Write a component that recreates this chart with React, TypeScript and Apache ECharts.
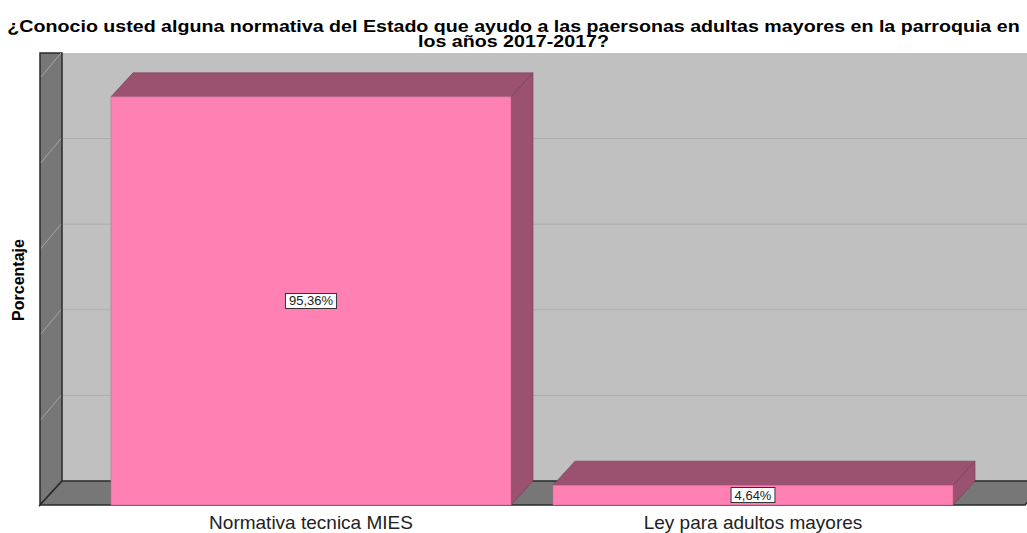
import React, { useEffect, useRef } from "react";
import * as echarts from "echarts";

const TITLE = "¿Conocio usted alguna normativa del Estado que ayudo a las paersonas adultas mayores en la parroquia en\nlos años 2017-2017?";
const CATEGORIES = ["Normativa tecnica MIES", "Ley para adultos mayores"];
const PERCENTS = [95.36, 4.64];
const LABELS = ["95,36%", "4,64%"];
const GRID_TICKS = [0, 20, 40, 60, 80, 100];

const GRID = { left: 90, right: 53, top: 77, bottom: 28 };
const W = 1027;
const H = 533;
const DX = 22;
const DY = 24;
const BAR_RATIO = 0.905;

const FRONT = "#ff80b3";
const DARK = "#9b5270";
const EDGE = "#6e3a52";

export default function App() {
  const ref = useRef<HTMLDivElement>(null);
  useEffect(() => {
    if (!ref.current) return;
    const chart = echarts.init(ref.current, null, { renderer: "svg" });
    const plotH = H - GRID.top - GRID.bottom;
    const y0Front = H - GRID.bottom;
    const yOf = (v: number) => y0Front - (v / 100) * plotH;
    const leftX = 40;
    const wallTop = yOf(100) - DY;

    const graphics: any[] = [];
    // title (slightly widened like the original)
    graphics.push({
      type: "text",
      z: 20,
      x: W / 2,
      y: 18,
      scaleX: 1.155,
      style: {
        text: TITLE,
        align: "center",
        verticalAlign: "top",
        fontFamily: "Liberation Sans",
        fontWeight: "bold",
        fontSize: 17,
        lineHeight: 15,
        fill: "#000",
      },
    });
    // back wall
    graphics.push({
      type: "rect",
      z: 0,
      shape: { x: leftX + DX, y: wallTop, width: W - leftX - DX + 5, height: plotH },
      style: { fill: "#c0c0c0" },
    });
    GRID_TICKS.slice(1, -1).forEach((t) => {
      const y = yOf(t) - DY;
      graphics.push({
        type: "line", z: 1,
        shape: { x1: leftX + DX, y1: y, x2: W + 5, y2: y },
        style: { stroke: "#adadad", lineWidth: 1 },
      });
    });
    // left wall
    graphics.push({
      type: "polygon", z: 2,
      shape: { points: [[leftX, wallTop], [leftX + DX, wallTop], [leftX + DX, yOf(0) - DY], [leftX, yOf(0)]] },
      style: { fill: "#777777", stroke: "#2a2a2a", lineWidth: 1.5 },
    });
    GRID_TICKS.slice(1).forEach((t) => {
      const y = yOf(t);
      graphics.push({
        type: "line", z: 3,
        shape: { x1: leftX + 1, y1: y, x2: leftX + DX - 1, y2: y - DY },
        style: { stroke: "#a5a5a5", lineWidth: 1 },
      });
    });
    // floor
    graphics.push({
      type: "polygon", z: 2,
      shape: { points: [[leftX, yOf(0)], [leftX + DX, yOf(0) - DY], [W + 20, yOf(0) - DY], [W + 20 - DX, yOf(0)]] },
      style: { fill: "#777777", stroke: "#2a2a2a", lineWidth: 1.5 },
    });

    chart.setOption({
      animation: false,
      grid: { left: GRID.left, right: GRID.right, top: GRID.top, bottom: GRID.bottom },
      xAxis: {
        type: "category",
        data: CATEGORIES,
        axisLine: { show: false },
        axisTick: { show: false },
        axisLabel: { fontFamily: "Liberation Sans", fontSize: 19, color: "#222", margin: 8 },
      },
      yAxis: {
        type: "value",
        min: 0,
        max: 100,
        interval: 20,
        axisLabel: { show: false },
        axisLine: { show: false },
        axisTick: { show: false },
        splitLine: { show: false },
        name: "Porcentaje",
        nameLocation: "middle",
        nameRotate: 90,
        nameGap: 64,
        nameTextStyle: { fontFamily: "Liberation Sans", fontWeight: "bold", fontSize: 16, color: "#000", padding: [0, 0, 0, 22] },
      },
      graphic: graphics,
      series: [
        {
          type: "custom",
          z: 10,
          data: PERCENTS.map((v, i) => [i, v]),
          renderItem: (params: any, api: any) => {
            const idx = api.value(0);
            const val = api.value(1);
            const top = api.coord([idx, val]);
            const base = api.coord([idx, 0]);
            const bw = api.size([1, 0])[0] * BAR_RATIO;
            const x0 = top[0] - bw / 2;
            const x1 = top[0] + bw / 2;
            const yt = top[1];
            const yb = base[1];
            return {
              type: "group",
              children: [
                {
                  type: "polygon",
                  shape: { points: [[x1, yt], [x1 + DX, yt - DY], [x1 + DX, yb - DY], [x1, yb]] },
                  style: { fill: DARK, stroke: EDGE, lineWidth: 0.6 },
                },
                {
                  type: "polygon",
                  shape: { points: [[x0, yt], [x0 + DX, yt - DY], [x1 + DX, yt - DY], [x1, yt]] },
                  style: { fill: DARK, stroke: EDGE, lineWidth: 0.6 },
                },
                {
                  type: "rect",
                  shape: { x: x0, y: yt, width: bw, height: yb - yt },
                  style: { fill: FRONT, stroke: "#c86a90", lineWidth: 0.6 },
                },
                {
                  type: "text",
                  x: top[0],
                  y: (yt + yb) / 2,
                  style: {
                    text: LABELS[params.dataIndex],
                    align: "center",
                    verticalAlign: "middle",
                    fontFamily: "Liberation Sans",
                    fontSize: 13,
                    fill: "#222",
                    backgroundColor: "#fff",
                    borderColor: "#333",
                    borderWidth: 1,
                    padding: [1, 3, 0, 3],
                  },
                },
              ],
            };
          },
        },
      ],
    });
    return () => chart.dispose();
  }, []);
  return <div ref={ref} style={{ width: W, height: H, position: "absolute", left: 0, top: 0 }} />;
}
